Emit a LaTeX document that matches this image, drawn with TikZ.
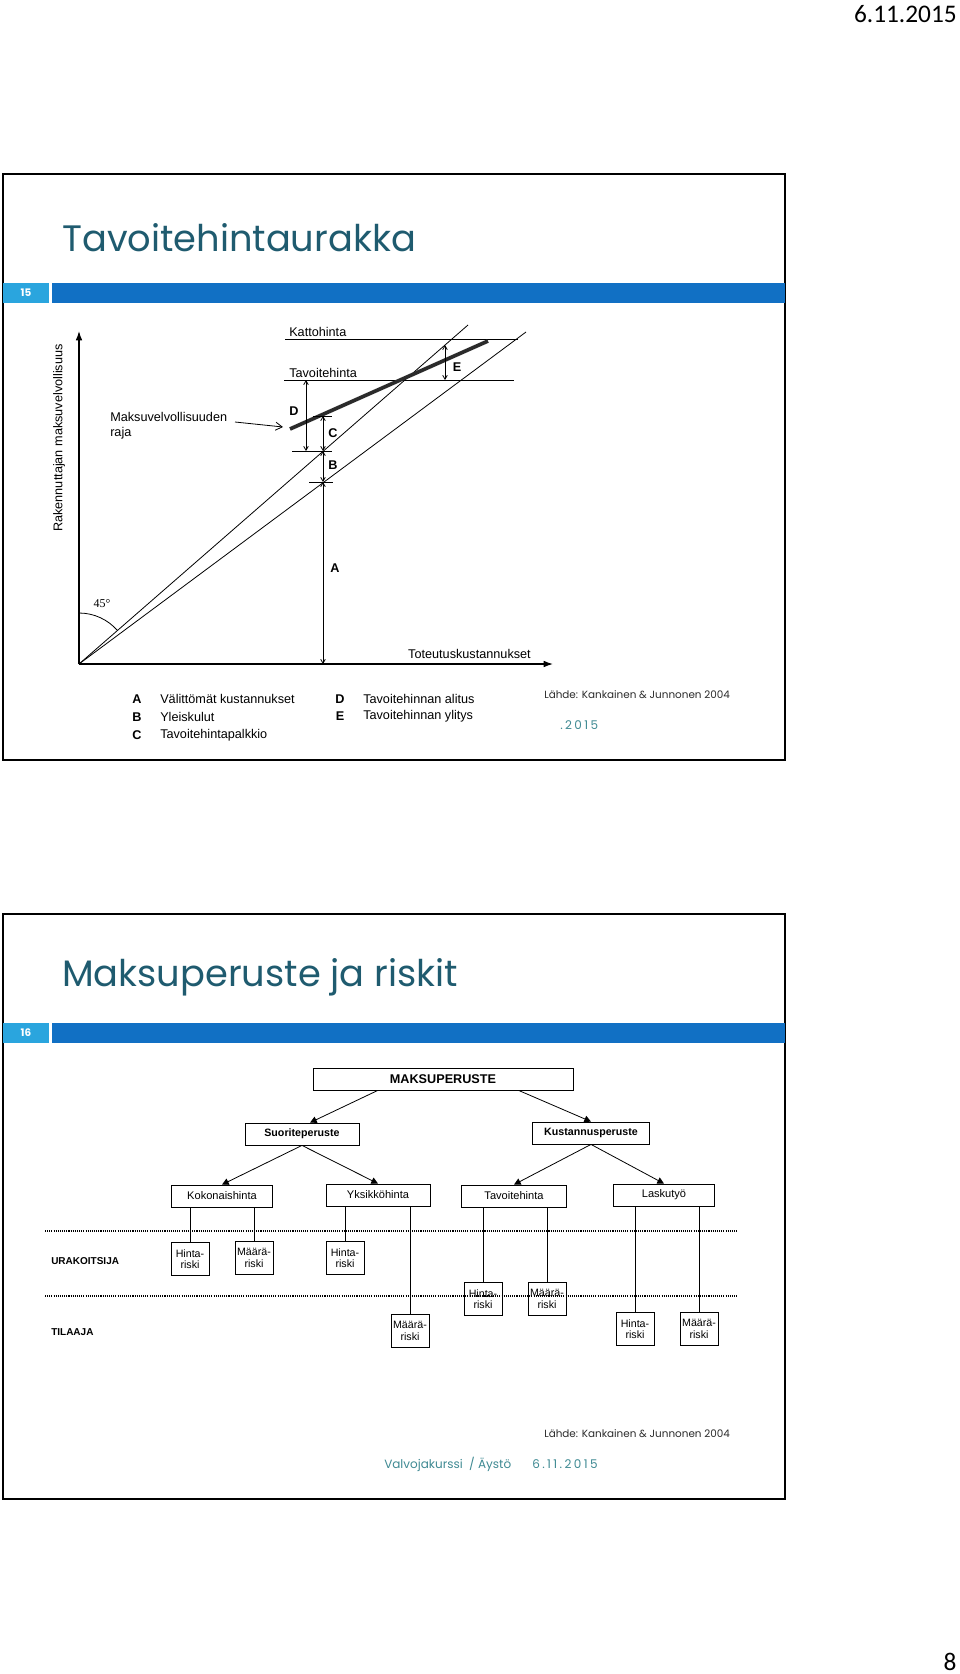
\documentclass[tikz,border=0pt]{standalone}
\usepackage{fontspec}
\setmainfont{Liberation Sans}
\newfontfamily\slidefont{Poppins}
\newfontfamily\spacedfont[LetterSpace=20]{Poppins}
\newfontfamily\datefont{Carlito}
\newfontfamily\degfont{Liberation Serif}
\usetikzlibrary{positioning,calc,arrows.meta}
\definecolor{titleteal}{HTML}{1F5B6F}
\definecolor{footteal}{HTML}{3F8A93}
\definecolor{barblue}{HTML}{1170C4}
\definecolor{numblue}{HTML}{2AA5DE}
\definecolor{inkgrey}{HTML}{2B2B2B}
\tikzset{
  slideframe/.style={draw=black,line width=1.6pt},
  slidetitle/.style={anchor=west,inner sep=0,font=\slidefont\fontsize{27.6}{30}\selectfont,text=titleteal},
  numbox/.style={fill=numblue,text=white,minimum width=34.5pt,minimum height=15pt,inner sep=0,
                 font=\slidefont\bfseries\fontsize{7.8}{8}\selectfont},
  source/.style={anchor=west,inner sep=0,font=\slidefont\fontsize{7.8}{9}\selectfont,text=inkgrey},
  foot/.style={anchor=west,inner sep=0,font=\slidefont\fontsize{9}{10}\selectfont,text=footteal},
  footdate/.style={foot,font=\spacedfont\fontsize{9}{10}\selectfont},
  % chart of slide 15
  axisline/.style={line width=0.9pt,-{Latex[length=7pt,width=5pt]}},
  ray/.style={line width=0.6pt},
  raja/.style={line width=2.8pt,draw=inkgrey},
  dim/.style={line width=0.6pt,{Straight Barb[length=3pt,width=3.5pt]}-{Straight Barb[length=3pt,width=3.5pt]}},
  pointer/.style={line width=0.6pt,-{Straight Barb[length=5pt,width=6pt]}},
  lab/.style={inner sep=0,font=\fontsize{9.5}{11}\selectfont},
  letter/.style={inner sep=0,font=\bfseries\fontsize{9.5}{10}\selectfont},
  % tree of slide 16
  box/.style={draw,line width=0.6pt,inner sep=1pt,minimum height=16.5pt,font=\fontsize{8.3}{9}\selectfont},
  risk/.style={draw,line width=0.6pt,inner sep=0,minimum width=28.5pt,minimum height=24.5pt,align=center,
               font=\fontsize{8}{8.5}\selectfont},
  arr/.style={line width=0.6pt,-{Triangle[length=5pt,width=5pt]}},
  party/.style={anchor=west,inner sep=0,font=\bfseries\fontsize{7.5}{9}\selectfont},
  band/.style={line width=1pt,dash pattern=on 0.8pt off 0.8pt},
}
\begin{document}
\begin{tikzpicture}[x=0.75pt,y=-0.75pt]
  \useasboundingbox[fill=white] (0,0) rectangle (960,1674);
  \node[anchor=east,inner sep=0,font=\datefont\fontsize{19}{20}\selectfont] (date) at (957,14) {6.11.2015};
  \node[inner sep=0,font=\datefont\fontsize{19}{20}\selectfont] (page) at (950,1662) {8};

  % slide 15
  \draw[slideframe] (3,174) rectangle (785,760);
  \node[slidetitle] (t15) at (62,238) {Tavoitehintaurakka};
  \node[numbox] (n15) at (26,293) {15};
  \fill[barblue] (52,283) rectangle (785,303);

  \draw[axisline] (79,664) -- (79,331);
  \draw[axisline] (79,664) -- (553,664);
  \draw[ray] (79,664) -- (468,325);
  \draw[ray] (79,664) -- (526,332);
  \draw[ray] (285,339) -- (518,339);
  \draw[ray] (284,380) -- (514,380);
  \draw[raja] (290,429) -- (488,341);
  \draw[ray] (79,613) arc[start angle=-90,end angle=-41,radius=51];
  \foreach \y/\a/\b in {416/313/332,451/292/332,482/309/333}
    \draw[ray] (\a,\y) -- (\b,\y);
  \draw[dim] (306,380) -- (306,451);
  \draw[dim] (323,416) -- (323,451);
  \draw[dim] (323,451) -- (323,482);
  \draw[dim] (323,482) -- (323,664);
  \draw[dim] (445,345) -- (445,380);
  \draw[pointer] (235,422) -- (283,427);

  \node[lab,anchor=base west] (katto) at (289,336) {Kattohinta};
  \node[lab,anchor=base west] (tavo) at (289,377) {Tavoitehinta};
  \node[lab,anchor=west,align=left] (raja) at (110,426) {Maksuvelvollisuuden\\raja};
  \node[lab,rotate=90] (ylab) at (59,438) {Rakennuttajan maksuvelvollisuus};
  \node[lab,anchor=east] (xlab) at (531,654) {Toteutuskustannukset};
  \node[inner sep=0,font=\degfont\fontsize{9}{10}\selectfont] (deg) at (102,604) {45°};
  \foreach \t/\x/\y in {D/294/411,C/333/433,B/333/465,E/457/367,A/335/568}
    \node[letter] (m\t) at (\x,\y) {\t};

  % legend
  \foreach \t/\x/\y/\s in {A/137/699/Välittömät kustannukset,B/137/717/Yleiskulut,C/137/735/Tavoitehintapalkkio,
                          D/340/699/Tavoitehinnan alitus,E/340/716/Tavoitehinnan ylitys}{
    \node[letter] (k\t) at (\x,\y) {\t};
    \node[lab,anchor=west] (s\t) at ($(k\t)+(23,0)$) {\s};
  }
  \node[source] (src15) at (544,695) {Lähde: Kankainen \& Junnonen 2004};
  \node[footdate] (yr15) at (560,725) {.2015};

  % slide 16
  \draw[slideframe] (3,914) rectangle (785,1499);
  \node[slidetitle] (t16) at (62,977) {Maksuperuste ja riskit};
  \node[numbox] (n16) at (26,1033) {16};
  \fill[barblue] (52,1023) rectangle (785,1043);

  \node[box,minimum width=195pt,font=\bfseries\fontsize{9.5}{10}\selectfont] (maks) at (443,1079) {MAKSUPERUSTE};
  \node[box,minimum width=85.5pt,font=\bfseries\fontsize{8}{9}\selectfont] (suor) at (302,1134) {Suoriteperuste};
  \node[box,minimum width=88pt,font=\bfseries\fontsize{8}{9}\selectfont] (kust) at (591,1133) {Kustannusperuste};
  \node[box,minimum width=76pt] (kok) at (222,1196) {Kokonaishinta};
  \node[box,minimum width=78pt] (yks) at (378,1195) {Yksikköhinta};
  \node[box,minimum width=79pt] (tav) at (514,1196) {Tavoitehinta};
  \node[box,minimum width=76pt] (lask) at (664,1195) {Laskutyö};

  \draw[arr] ($(maks.south west)!0.25!(maks.south east)$) -- ($(suor.north west)!0.57!(suor.north east)$);
  \draw[arr] ($(maks.south west)!0.79!(maks.south east)$) -- (kust.north);
  \draw[arr] (suor.south) -- (kok.north);
  \draw[arr] (suor.south) -- (yks.north);
  \draw[arr] (kust.south) -- (tav.north);
  \draw[arr] (kust.south) -- (lask.north);

  \coordinate (u0) at (45,1231);
  \coordinate (u1) at (737,1231);
  \coordinate (v0) at (45,1296);
  \coordinate (v1) at (737,1296);
  \draw[band] (u0) -- (u1);
  \draw[band] (v0) -- (v1);
  \node[party] (urak) at (51,1261) {URAKOITSIJA};
  \node[party] (tila) at (51,1332) {TILAAJA};

  \foreach \n/\p/\x/\y/\w in {kh/kok/190/1259/Hinta,km/kok/254/1258/Määrä,yh/yks/345/1258/Hinta,
                             ym/yks/410/1331/Määrä,th/tav/483/1299/Hinta,tm/tav/547/1299/Määrä,
                             lh/lask/635/1329/Hinta,lm/lask/699/1329/Määrä}{
    \node[risk] (\n) at (\x,\y) {\w-\\riski};
    \draw[ray] (\n.north) -- (\n.north |- \p.south);
  }

  \node[source] (src16) at (544,1434) {Lähde: Kankainen \& Junnonen 2004};
  \node[foot] (who) at (384,1464) {Valvojakurssi \ / Äystö};
  \node[footdate] (yr16) at (532,1464) {6.11.2015};
\end{tikzpicture}
\end{document}
